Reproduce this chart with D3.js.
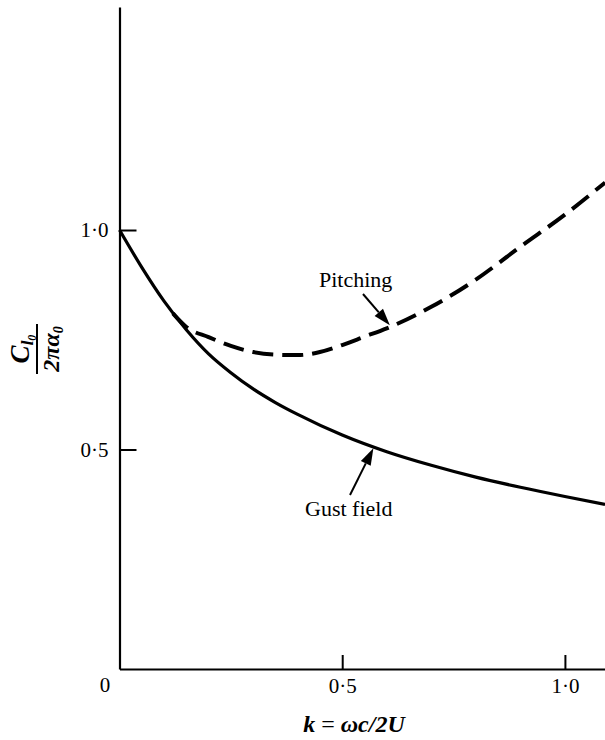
<!DOCTYPE html>
<html>
<head>
<meta charset="utf-8">
<script src="https://cdn.jsdelivr.net/npm/d3@7"></script>
</head>
<body style="margin:0;background:#fff">
<svg id="chart" width="605" height="740" style="display:block"></svg>
<script>
// ---- data ----
const gustK     = [0, 0.05, 0.1, 0.15, 0.2, 0.25, 0.3, 0.35, 0.4, 0.5, 0.6, 0.7, 0.8, 0.9, 1.0, 1.09];
const gustVal   = [1.0, 0.915, 0.838, 0.773, 0.718, 0.675, 0.638, 0.607, 0.58, 0.533, 0.495, 0.464, 0.437, 0.414, 0.393, 0.375];
const pitchK    = [0.12, 0.15, 0.2, 0.25, 0.3, 0.35, 0.4, 0.45, 0.5, 0.55, 0.6, 0.7, 0.8, 0.9, 1.0, 1.09];
const pitchVal  = [0.81, 0.779, 0.756, 0.736, 0.722, 0.716, 0.715, 0.722, 0.738, 0.757, 0.776, 0.825, 0.887, 0.962, 1.035, 1.108];
const xTicks    = [0.5, 1.0];
const yTicks    = [0.5, 1.0];
const originLabel = "0";
const gustLabel  = "Gust field";
const pitchLabel = "Pitching";
const gustArrowK  = 0.57;
const pitchArrowK = 0.607;

// ---- layout ----
const SERIF = '"Liberation Serif"';
const svg = d3.select("#chart");
const x = d3.scaleLinear().domain([0, 1.09]).range([119.5, 605]);
const y = d3.scaleLinear().domain([0, 1.508]).range([669, 7]);
const fmt = d => d.toFixed(1).replace(".", "\u00B7");

const gustData  = gustK.map((k, i) => [k, gustVal[i]]);
const pitchData = pitchK.map((k, i) => [k, pitchVal[i]]);

function interp(data, k) {
  for (let i = 0; i < data.length - 1; i++) {
    if (k >= data[i][0] && k <= data[i + 1][0]) {
      const t = (k - data[i][0]) / (data[i + 1][0] - data[i][0]);
      return data[i][1] + t * (data[i + 1][1] - data[i][1]);
    }
  }
  return data[data.length - 1][1];
}

// axes
const yAxis = d3.axisLeft(y).tickValues(yTicks).tickFormat(fmt)
  .tickSizeInner(-17).tickSizeOuter(0).tickPadding(11);
const xAxis = d3.axisBottom(x).tickValues(xTicks).tickFormat(fmt)
  .tickSizeInner(-14).tickSizeOuter(0).tickPadding(9);

const gy = svg.append("g").attr("transform", `translate(${x(0)},0)`).call(yAxis);
const gx = svg.append("g").attr("transform", `translate(0,${y(0)})`).call(xAxis);
[gx, gy].forEach(g => {
  g.attr("font-family", null).attr("font-size", null);
  g.select(".domain").attr("stroke", "#000").attr("stroke-width", 2.2);
  g.selectAll(".tick line").attr("stroke", "#000").attr("stroke-width", 2);
  g.selectAll(".tick text").style("font-family", SERIF)
    .style("font-size", "21px").attr("fill", "#000");
});

svg.append("text").attr("x", 105).attr("y", 692)
  .attr("text-anchor", "middle").style("font-family", SERIF).style("font-size", "21px").text(originLabel);

// curves
const line = d3.line().x(d => x(d[0])).y(d => y(d[1])).curve(d3.curveMonotoneX);
svg.append("path").datum(gustData).attr("d", line)
  .attr("fill", "none").attr("stroke", "#000").attr("stroke-width", 3.2);
svg.append("path").datum(pitchData).attr("d", line)
  .attr("fill", "none").attr("stroke", "#000").attr("stroke-width", 4)
  .attr("stroke-dasharray", "21 9");

// annotations with arrows
function arrow(x0, y0, x1, y1) {
  const dx = x1 - x0, dy = y1 - y0, L = Math.hypot(dx, dy);
  const ux = dx / L, uy = dy / L, hl = 17, hw = 5.5;
  const bx = x1 - ux * hl, by = y1 - uy * hl;
  svg.append("line").attr("x1", x0).attr("y1", y0).attr("x2", bx).attr("y2", by)
    .attr("stroke", "#000").attr("stroke-width", 2);
  svg.append("path")
    .attr("d", `M${x1},${y1}L${bx - uy * hw},${by + ux * hw}L${bx + uy * hw},${by - ux * hw}Z`)
    .attr("fill", "#000");
}
arrow(350, 495, x(gustArrowK), y(interp(gustData, gustArrowK)) + 1.5);
arrow(363, 294, x(pitchArrowK), y(interp(pitchData, pitchArrowK)) - 1.5);

svg.append("text").attr("x", 305).attr("y", 516).style("font-family", SERIF).style("font-size", "22px").text(gustLabel);
svg.append("text").attr("x", 319).attr("y", 287).style("font-family", SERIF).style("font-size", "22px").text(pitchLabel);

// x axis label
const xl = svg.append("text").attr("x", 354).attr("y", 732).attr("text-anchor", "middle")
  .style("font-family", SERIF).style("font-size", "24px").style("font-style", "italic").style("font-weight", "bold");
xl.append("tspan").text("k");
xl.append("tspan").style("font-style", "normal").style("font-weight", "normal").text(" = ");
xl.append("tspan").text("\u03C9c/2U");

// y axis label (rotated fraction)
const yl = svg.append("g").attr("transform", "translate(37,349) rotate(-90)");
const num = yl.append("text").attr("x", 0).attr("y", -8).attr("text-anchor", "middle")
  .style("font-family", SERIF).style("font-size", "27px").style("font-style", "italic").style("font-weight", "bold");
num.append("tspan").text("C");
num.append("tspan").style("font-size", "17px").attr("dy", 4).text("l");
num.append("tspan").style("font-size", "12px").attr("dy", 3).text("0");
yl.append("line").attr("x1", -25).attr("x2", 25).attr("y1", 0).attr("y2", 0)
  .attr("stroke", "#000").attr("stroke-width", 2);
const den = yl.append("text").attr("x", 0).attr("y", 22).attr("text-anchor", "middle")
  .style("font-family", SERIF).style("font-size", "24px").style("font-style", "italic").style("font-weight", "bold");
den.append("tspan").text("2\u03C0\u03B1");
den.append("tspan").style("font-size", "14px").attr("dy", 4).text("0");
</script>
</body>
</html>
